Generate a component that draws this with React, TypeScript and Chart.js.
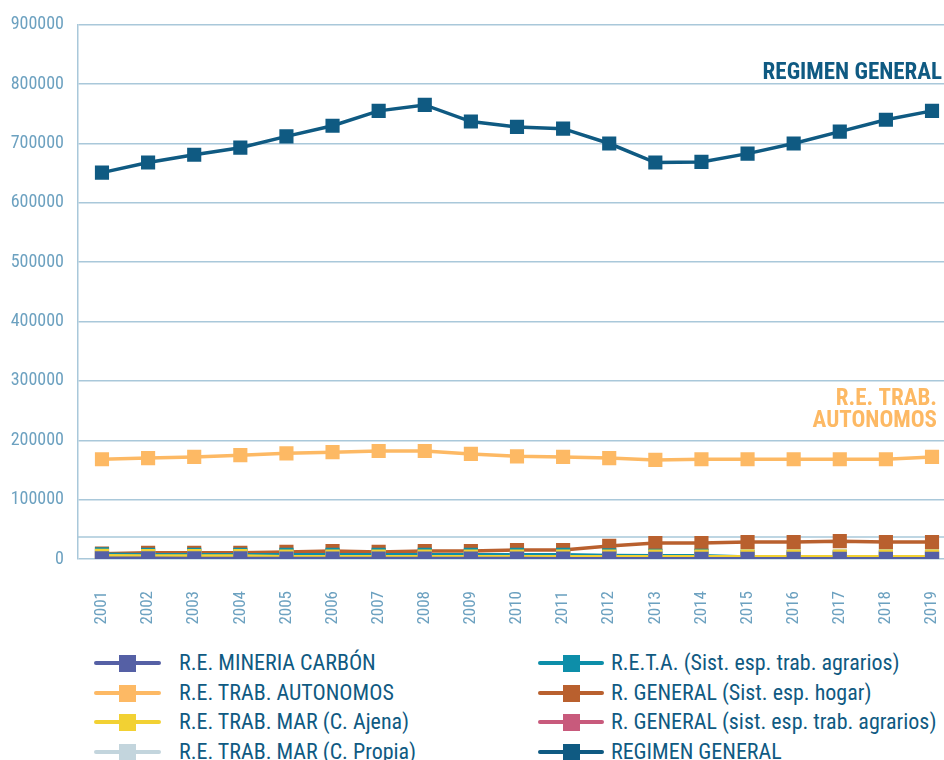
import React, { useEffect, useRef } from "react";
import { Chart, registerables } from "chart.js";

Chart.register(...registerables);

const FONT = "'Roboto Condensed', 'Liberation Sans Narrow', 'Roboto', sans-serif";

const years = [2001, 2002, 2003, 2004, 2005, 2006, 2007, 2008, 2009, 2010, 2011, 2012, 2013, 2014, 2015, 2016, 2017, 2018, 2019];

const mineriaCarbon = [1200, 1100, 1000, 1000, 900, 900, 800, 800, 700, 700, 600, 600, 500, 500, 400, 400, 400, 300, 300];
const trabAutonomos = [168000, 170000, 172000, 175000, 178000, 180000, 182000, 182000, 177000, 173000, 172000, 170000, 167000, 168000, 168000, 168000, 168000, 168000, 172000];
const marAjena = [5500, 5000, 5000, 5000, 4000, 4000, 4000, 4000, 4000, 4000, 4000, 4000, 4000, 4000, 4000, 4000, 4000, 4000, 4000];
const marPropia = [2500, 2500, 2500, 2400, 2400, 2300, 2300, 2200, 2200, 2100, 2100, 2000, 2000, 2000, 1900, 1900, 1900, 1800, 1800];
const retaAgrarios = [8000, 7000, 7000, 7000, 7000, 7000, 7000, 7000, 7000, 7000, 7000, 6000, 5500, 5500, 3500, 3500, 3500, 3500, 3500];
const generalHogar = [9000, 10500, 10500, 10500, 12000, 13500, 12000, 13500, 13500, 15000, 15000, 22000, 27000, 27000, 28500, 28500, 30000, 28500, 28500];
const generalAgrarios = [1000, 1000, 1000, 1000, 1000, 1000, 1000, 1000, 1000, 1000, 1000, 1000, 1000, 1000, 1000, 1000, 1000, 1000, 1000];
const regimenGeneral = [651000, 668000, 681000, 693000, 712000, 730000, 755000, 765000, 737000, 728000, 725000, 700000, 668000, 669000, 683000, 700000, 720000, 740000, 755000];

const seriesNames = [
  "R.E. MINERIA CARBÓN",
  "R.E. TRAB. AUTONOMOS",
  "R.E. TRAB. MAR (C. Ajena)",
  "R.E. TRAB. MAR (C. Propia)",
  "R.E.T.A. (Sist. esp. trab. agrarios)",
  "R. GENERAL (Sist. esp. hogar)",
  "R. GENERAL (sist. esp. trab. agrarios)",
  "REGIMEN GENERAL",
];
const seriesValues = [mineriaCarbon, trabAutonomos, marAjena, marPropia, retaAgrarios, generalHogar, generalAgrarios, regimenGeneral];
const seriesColors = ["#5560a5", "#fdb964", "#f2d133", "#c3d5dd", "#0d8ea9", "#b9602e", "#c85a7c", "#0f5a82"];

const yTickStep = 100000;
const yMax = 900000;
const extraLineValue = 37000;

const gridColor = "#a9c8da";
const tickColor = "#6ca1c0";
const textBlue = "#0f5a82";

const overlayPlugin = {
  id: "overlayText",
  beforeDatasetsDraw(chart: any) {
    const { ctx, chartArea, scales } = chart;
    const y = scales.y.getPixelForValue(extraLineValue);
    ctx.save();
    ctx.strokeStyle = gridColor;
    ctx.lineWidth = 1.5;
    ctx.beginPath();
    ctx.moveTo(chartArea.left, y);
    ctx.lineTo(chartArea.right, y);
    ctx.stroke();
    ctx.restore();
  },
  afterDatasetsDraw(chart: any) {
    const { ctx, chartArea, scales } = chart;
    ctx.save();
    ctx.font = `bold 23px ${FONT}`;
    ctx.textAlign = "right";
    ctx.textBaseline = "alphabetic";
    ctx.fillStyle = textBlue;
    ctx.fillText("REGIMEN GENERAL", chartArea.right - 2, scales.y.getPixelForValue(800000) - 5);
    ctx.fillStyle = seriesColors[1];
    const y2 = scales.y.getPixelForValue(200000);
    ctx.fillText("R.E. TRAB.", chartArea.right - 7, y2 - 35);
    ctx.fillText("AUTONOMOS", chartArea.right - 7, y2 - 13);
    ctx.restore();
  },
};

export default function App() {
  const ref = useRef<HTMLCanvasElement>(null);

  useEffect(() => {
    const chart = new Chart(ref.current as HTMLCanvasElement, {
      type: "line",
      data: {
        datasets: seriesNames.map((name, i) => ({
          label: name,
          data: years.map((yr, j) => ({ x: yr, y: seriesValues[i][j] })),
          borderColor: seriesColors[i],
          backgroundColor: seriesColors[i],
          pointBackgroundColor: seriesColors[i],
          pointStyle: "rect",
          pointRadius: 10,
          pointBorderWidth: 0,
          borderWidth: 3.5,
          tension: 0,
        })),
      },
      options: {
        responsive: false,
        animation: false,
        layout: { autoPadding: false, padding: { top: 24, right: 0, left: 0, bottom: 0 } },
        plugins: { legend: { display: false }, tooltip: { enabled: false } },
        scales: {
          x: {
            type: "linear",
            min: 2000.48,
            max: 2019.26,
            afterBuildTicks: (scale: any) => {
              scale.ticks = years.map((v) => ({ value: v }));
            },
            afterFit: (scale: any) => {
              scale.height = 81;
              scale.paddingLeft = 0;
              scale.paddingRight = 0;
            },
            ticks: {
              minRotation: 90,
              maxRotation: 90,
              autoSkip: false,
              padding: 24,
              color: tickColor,
              font: { family: FONT, size: 17 },
              callback: (v: any) => String(v),
            },
            grid: { display: false },
            border: { display: false },
          },
          y: {
            min: 0,
            max: yMax,
            afterFit: (scale: any) => {
              scale.width = 78;
            },
            ticks: {
              stepSize: yTickStep,
              padding: 14,
              color: tickColor,
              font: { family: FONT, size: 18 },
              callback: (v: any) => String(v),
            },
            grid: { color: gridColor, lineWidth: 1.5, drawTicks: false },
            border: { display: true, color: gridColor, width: 1.5 },
          },
        },
      },
      plugins: [overlayPlugin],
    });
    return () => chart.destroy();
  }, []);

  const legendLeft = [0, 1, 2, 3];
  const legendRight = [4, 5, 6, 7];
  const rowCenters = [663, 693, 722, 752];

  const renderItem = (idx: number, row: number, lineX: number, lineW: number, textX: number) => (
    <React.Fragment key={idx}>
      <div
        style={{
          position: "absolute",
          left: lineX,
          top: rowCenters[row] - 2,
          width: lineW,
          height: 4,
          borderRadius: 2,
          background: seriesColors[idx],
        }}
      />
      <div
        style={{
          position: "absolute",
          left: lineX + lineW / 2 - 8.5,
          top: rowCenters[row] - 8.5,
          width: 17,
          height: 17,
          background: seriesColors[idx],
        }}
      />
      <div
        style={{
          position: "absolute",
          left: textX,
          top: rowCenters[row] - 15,
          height: 30,
          lineHeight: "30px",
          fontFamily: FONT,
          fontSize: 22,
          color: textBlue,
          whiteSpace: "nowrap",
        }}
      >
        {seriesNames[idx]}
      </div>
    </React.Fragment>
  );

  return (
    <div style={{ position: "absolute", left: 0, top: 0, width: 944, height: 760, overflow: "hidden", background: "#fff" }}>
      <canvas ref={ref} width={944} height={640} style={{ position: "absolute", left: 0, top: 0 }} />
      {legendLeft.map((idx, r) => renderItem(idx, r, 94, 67, 179))}
      {legendRight.map((idx, r) => renderItem(idx, r, 538, 66, 611))}
    </div>
  );
}
